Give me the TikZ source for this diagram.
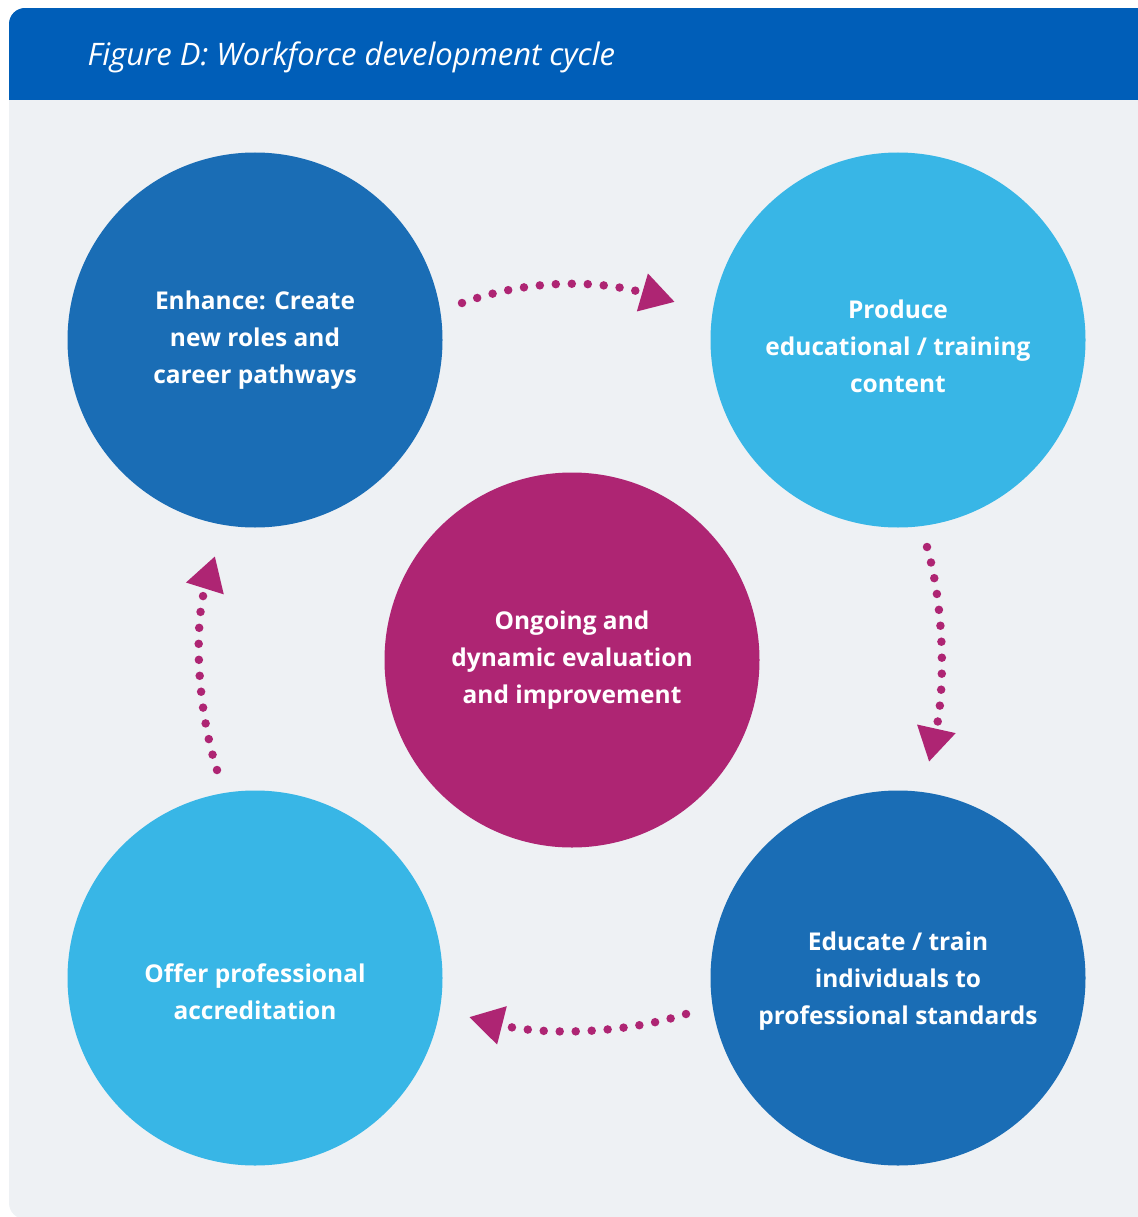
\documentclass[tikz,border=0pt]{standalone}
\usepackage{fontspec}
\setmainfont{Open Sans}
\usetikzlibrary{arrows.meta}
\definecolor{nhsblue}{HTML}{005EB8}
\definecolor{panelgray}{HTML}{EEF1F4}
\definecolor{darkcirc}{HTML}{1A6DB5}
\definecolor{lightcirc}{HTML}{38B6E6}
\definecolor{evalpink}{HTML}{AE2573}
\begin{document}
\begin{tikzpicture}[x=1pt,y=-1pt,
  circ/.style={circle, fill=#1, minimum size=375pt, inner sep=0pt},
  ctext/.style={text=white, align=center, font=\bfseries\fontsize{24.5}{37}\selectfont},
  dotarr/.style={evalpink, line width=8.5pt, line cap=round, dash pattern=on 0pt off 16pt,
    -{Triangle[length=34pt,width=37pt]}}]
\useasboundingbox (0,0) rectangle (1137,1217);
\begin{scope}
\clip[rounded corners=16pt] (9,8) rectangle (1160,1219);
\fill[panelgray] (9,8) rectangle (1160,1219);
\fill[nhsblue] (9,8) rectangle (1160,100);
\end{scope}
\node[anchor=base west, text=white, font=\itshape\fontsize{31}{35}\selectfont] (title) at (84,66) {Figure D: Workforce development cycle};
\node[circ=darkcirc] (enh) at (255,340){};
\node[circ=lightcirc] (prod) at (898,340){};
\node[circ=evalpink] (eval) at (572,660){};
\node[circ=darkcirc] (edu) at (898,978){};
\node[circ=lightcirc] (accr) at (255,978){};
\node[ctext] (enh-t) at (enh) {Enhance: Create\\new roles and\\career pathways};
\node[ctext, yshift=-6pt] (prod-t) at (prod) {Produce\\educational / training\\content};
\node[ctext] (eval-t) at (eval) {Ongoing and\\dynamic evaluation\\and improvement};
\node[ctext, yshift=-3pt] (edu-t) at (edu) {Educate / train\\individuals to\\professional standards};
\node[ctext, yshift=-14pt] (accr-t) at (accr) {Offer professional\\accreditation};
\coordinate (a1s) at (462,303);
\coordinate (a1e) at (675,302);
\coordinate (a2s) at (927,547);
\coordinate (a2e) at (929,762);
\coordinate (a3s) at (686,1014);
\coordinate (a3e) at (469,1017);
\coordinate (a4s) at (217,770);
\coordinate (a4e) at (215,556);
\draw[dotarr] (a1s) .. controls (540,275) and (610,283) .. (a1e);
\draw[dotarr] (a2s) .. controls (945,610) and (945,690) .. (a2e);
\draw[dotarr] (a3s) .. controls (620,1035) and (540,1035) .. (a3e);
\draw[dotarr] (a4s) .. controls (195,700) and (195,620) .. (a4e);
\end{tikzpicture}
\end{document}
